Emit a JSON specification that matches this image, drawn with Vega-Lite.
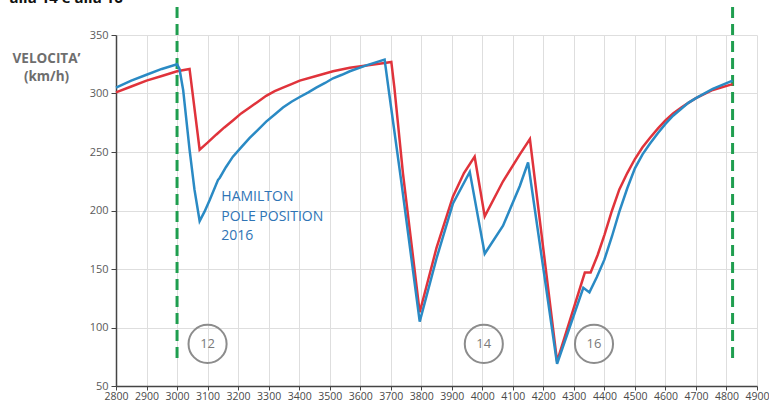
{
  "$schema": "https://vega.github.io/schema/vega-lite/v6.json",
  "width": 641,
  "height": 351,
  "autosize": {"type": "none"},
  "padding": {"left": 116, "top": 35, "right": 12, "bottom": 20},
  "background": "white",
  "config": {"view": {"stroke": null}, "font": "Open Sans"},
  "datasets": {
    "speed": [
      {"d": 2800, "v": 305, "s": "Hamilton"}, {"d": 2850, "v": 311, "s": "Hamilton"}, {"d": 2900, "v": 316, "s": "Hamilton"},
      {"d": 2950, "v": 321, "s": "Hamilton"}, {"d": 3000, "v": 325, "s": "Hamilton"}, {"d": 3008, "v": 321, "s": "Hamilton"},
      {"d": 3020, "v": 303, "s": "Hamilton"}, {"d": 3041, "v": 252, "s": "Hamilton"}, {"d": 3057, "v": 218, "s": "Hamilton"},
      {"d": 3074, "v": 191, "s": "Hamilton"}, {"d": 3090, "v": 199, "s": "Hamilton"}, {"d": 3107, "v": 209, "s": "Hamilton"},
      {"d": 3134, "v": 226, "s": "Hamilton"}, {"d": 3140, "v": 228, "s": "Hamilton"}, {"d": 3160, "v": 237, "s": "Hamilton"},
      {"d": 3183, "v": 246, "s": "Hamilton"}, {"d": 3210, "v": 254, "s": "Hamilton"},
      {"d": 3238, "v": 262, "s": "Hamilton"}, {"d": 3265, "v": 269, "s": "Hamilton"}, {"d": 3292, "v": 276, "s": "Hamilton"},
      {"d": 3320, "v": 282, "s": "Hamilton"}, {"d": 3347, "v": 288, "s": "Hamilton"}, {"d": 3375, "v": 293, "s": "Hamilton"},
      {"d": 3402, "v": 297, "s": "Hamilton"}, {"d": 3430, "v": 301, "s": "Hamilton"}, {"d": 3456, "v": 305, "s": "Hamilton"},
      {"d": 3485, "v": 309, "s": "Hamilton"}, {"d": 3511, "v": 313, "s": "Hamilton"}, {"d": 3540, "v": 316, "s": "Hamilton"},
      {"d": 3566, "v": 319, "s": "Hamilton"}, {"d": 3620, "v": 324, "s": "Hamilton"}, {"d": 3680, "v": 329, "s": "Hamilton"},
      {"d": 3695, "v": 300, "s": "Hamilton"}, {"d": 3735, "v": 224, "s": "Hamilton"}, {"d": 3795, "v": 105, "s": "Hamilton"},
      {"d": 3850, "v": 159, "s": "Hamilton"}, {"d": 3904, "v": 206, "s": "Hamilton"}, {"d": 3959, "v": 233, "s": "Hamilton"},
      {"d": 4008, "v": 163, "s": "Hamilton"}, {"d": 4068, "v": 187, "s": "Hamilton"}, {"d": 4123, "v": 221, "s": "Hamilton"},
      {"d": 4150, "v": 241, "s": "Hamilton"}, {"d": 4245, "v": 69, "s": "Hamilton"}, {"d": 4331, "v": 134, "s": "Hamilton"},
      {"d": 4351, "v": 130, "s": "Hamilton"}, {"d": 4375, "v": 143, "s": "Hamilton"}, {"d": 4400, "v": 158, "s": "Hamilton"},
      {"d": 4425, "v": 178, "s": "Hamilton"}, {"d": 4449, "v": 199, "s": "Hamilton"}, {"d": 4475, "v": 219, "s": "Hamilton"},
      {"d": 4500, "v": 236, "s": "Hamilton"}, {"d": 4525, "v": 248, "s": "Hamilton"}, {"d": 4549, "v": 257, "s": "Hamilton"},
      {"d": 4575, "v": 266, "s": "Hamilton"}, {"d": 4600, "v": 274, "s": "Hamilton"}, {"d": 4625, "v": 281, "s": "Hamilton"},
      {"d": 4652, "v": 287, "s": "Hamilton"}, {"d": 4675, "v": 292, "s": "Hamilton"},
      {"d": 4700, "v": 296, "s": "Hamilton"}, {"d": 4755, "v": 304, "s": "Hamilton"}, {"d": 4820, "v": 311, "s": "Hamilton"},
      {"d": 2800, "v": 301, "s": "Altro"}, {"d": 2850, "v": 306, "s": "Altro"}, {"d": 2900, "v": 311, "s": "Altro"},
      {"d": 2950, "v": 315, "s": "Altro"}, {"d": 3000, "v": 319, "s": "Altro"}, {"d": 3041, "v": 321, "s": "Altro"},
      {"d": 3074, "v": 252, "s": "Altro"}, {"d": 3100, "v": 258, "s": "Altro"}, {"d": 3129, "v": 265, "s": "Altro"},
      {"d": 3155, "v": 271, "s": "Altro"}, {"d": 3183, "v": 277, "s": "Altro"}, {"d": 3210, "v": 283, "s": "Altro"},
      {"d": 3238, "v": 288, "s": "Altro"}, {"d": 3265, "v": 293, "s": "Altro"}, {"d": 3292, "v": 298, "s": "Altro"},
      {"d": 3320, "v": 302, "s": "Altro"}, {"d": 3347, "v": 305, "s": "Altro"}, {"d": 3375, "v": 308, "s": "Altro"},
      {"d": 3402, "v": 311, "s": "Altro"}, {"d": 3456, "v": 315, "s": "Altro"},
      {"d": 3511, "v": 319, "s": "Altro"}, {"d": 3566, "v": 322, "s": "Altro"}, {"d": 3620, "v": 324, "s": "Altro"},
      {"d": 3680, "v": 326, "s": "Altro"}, {"d": 3702, "v": 327, "s": "Altro"}, {"d": 3712, "v": 305, "s": "Altro"},
      {"d": 3740, "v": 232, "s": "Altro"}, {"d": 3795, "v": 113, "s": "Altro"}, {"d": 3850, "v": 168, "s": "Altro"},
      {"d": 3904, "v": 212, "s": "Altro"}, {"d": 3940, "v": 232, "s": "Altro"}, {"d": 3975, "v": 246, "s": "Altro"},
      {"d": 4008, "v": 195, "s": "Altro"}, {"d": 4068, "v": 225, "s": "Altro"}, {"d": 4123, "v": 248, "s": "Altro"},
      {"d": 4156, "v": 261, "s": "Altro"}, {"d": 4245, "v": 71, "s": "Altro"}, {"d": 4336, "v": 147, "s": "Altro"},
      {"d": 4355, "v": 147, "s": "Altro"}, {"d": 4378, "v": 162, "s": "Altro"}, {"d": 4400, "v": 179, "s": "Altro"},
      {"d": 4425, "v": 200, "s": "Altro"}, {"d": 4449, "v": 218, "s": "Altro"}, {"d": 4475, "v": 232, "s": "Altro"},
      {"d": 4500, "v": 244, "s": "Altro"}, {"d": 4525, "v": 254, "s": "Altro"}, {"d": 4549, "v": 262, "s": "Altro"},
      {"d": 4575, "v": 270, "s": "Altro"}, {"d": 4600, "v": 277, "s": "Altro"}, {"d": 4625, "v": 283, "s": "Altro"},
      {"d": 4652, "v": 288, "s": "Altro"}, {"d": 4675, "v": 292, "s": "Altro"}, {"d": 4700, "v": 296, "s": "Altro"},
      {"d": 4755, "v": 303, "s": "Altro"}, {"d": 4820, "v": 308, "s": "Altro"}
    ],
    "markers": [
      {"d": 3000, "v": 374, "v2": 73},
      {"d": 4820, "v": 374, "v2": 73}
    ],
    "turns": [
      {"d": 3100, "v": 86, "t": "12"},
      {"d": 4005, "v": 86, "t": "14"},
      {"d": 4366, "v": 86, "t": "16"}
    ],
    "notes": [
      {"d": 3145, "v": 208, "t": "HAMILTON"},
      {"d": 3145, "v": 191, "t": "POLE POSITION"},
      {"d": 3145, "v": 175, "t": "2016"}
    ],
    "top": [
      {"d": 2451, "v": 377.5, "t": "alla 14 e alla 16"}
    ]
  },
  "encoding": {
    "x": {
      "field": "d",
      "type": "quantitative",
      "scale": {"domain": [2800, 4900], "nice": false, "zero": false},
      "axis": {
        "values": [2800, 2900, 3000, 3100, 3200, 3300, 3400, 3500, 3600, 3700, 3800, 3900, 4000, 4100, 4200, 4300, 4400, 4500, 4600, 4700, 4800, 4900],
        "title": null,
        "format": "d",
        "labelOverlap": false,
        "labelFlush": false,
        "labelFontSize": 10.5,
        "labelColor": "#4a4a4a",
        "labelPadding": 1,
        "tickSize": 4,
        "tickColor": "#444444",
        "domainColor": "#444444",
        "domainWidth": 1.5,
        "gridColor": "#dedede"
      }
    },
    "y": {
      "field": "v",
      "type": "quantitative",
      "scale": {"domain": [50, 350], "nice": false, "zero": false},
      "axis": {
        "values": [50, 100, 150, 200, 250, 300, 350],
        "title": ["VELOCITA’", "(km/h)"],
        "titleAngle": 0,
        "titleAlign": "center",
        "titleBaseline": "top",
        "titleX": -70,
        "titleY": 16,
        "titleFontSize": 13.5,
        "titleFontWeight": "bold",
        "titleColor": "#6e6e6e",
        "titleLineHeight": 18,
        "labelFontSize": 11,
        "labelColor": "#5a5a5a",
        "labelPadding": 3,
        "tickSize": 5,
        "tickColor": "#444444",
        "domainColor": "#444444",
        "domainWidth": 1.5,
        "gridColor": "#dedede"
      }
    }
  },
  "layer": [
    {
      "data": {"name": "markers"},
      "mark": {"type": "rule", "color": "#1f9e4f", "strokeWidth": 3, "strokeDash": [11, 6]},
      "encoding": {"y2": {"field": "v2"}}
    },
    {
      "data": {"name": "speed"},
      "transform": [{"filter": "datum.s === 'Altro'"}],
      "mark": {"type": "line", "color": "#e0333b", "strokeWidth": 2.5},
      "encoding": {"order": {"field": "d", "type": "quantitative"}}
    },
    {
      "data": {"name": "speed"},
      "transform": [{"filter": "datum.s === 'Hamilton'"}],
      "mark": {"type": "line", "color": "#2a8ac4", "strokeWidth": 2.5},
      "encoding": {"order": {"field": "d", "type": "quantitative"}}
    },
    {
      "data": {"name": "turns"},
      "mark": {"type": "point", "shape": "circle", "size": 1450, "filled": false, "stroke": "#8c8c8c", "strokeWidth": 2, "opacity": 1},
      "encoding": {}
    },
    {
      "data": {"name": "turns"},
      "mark": {"type": "text", "fontSize": 13, "color": "#7a7a7a", "baseline": "middle", "align": "center"},
      "encoding": {"text": {"field": "t"}}
    },
    {
      "data": {"name": "notes"},
      "mark": {"type": "text", "fontSize": 14, "color": "#2f74b5", "baseline": "alphabetic", "align": "left"},
      "encoding": {"text": {"field": "t"}}
    },
    {
      "data": {"name": "top"},
      "mark": {"type": "text", "fontSize": 15, "fontWeight": "bold", "color": "#111111", "baseline": "alphabetic", "align": "left"},
      "encoding": {"text": {"field": "t"}}
    }
  ]
}
